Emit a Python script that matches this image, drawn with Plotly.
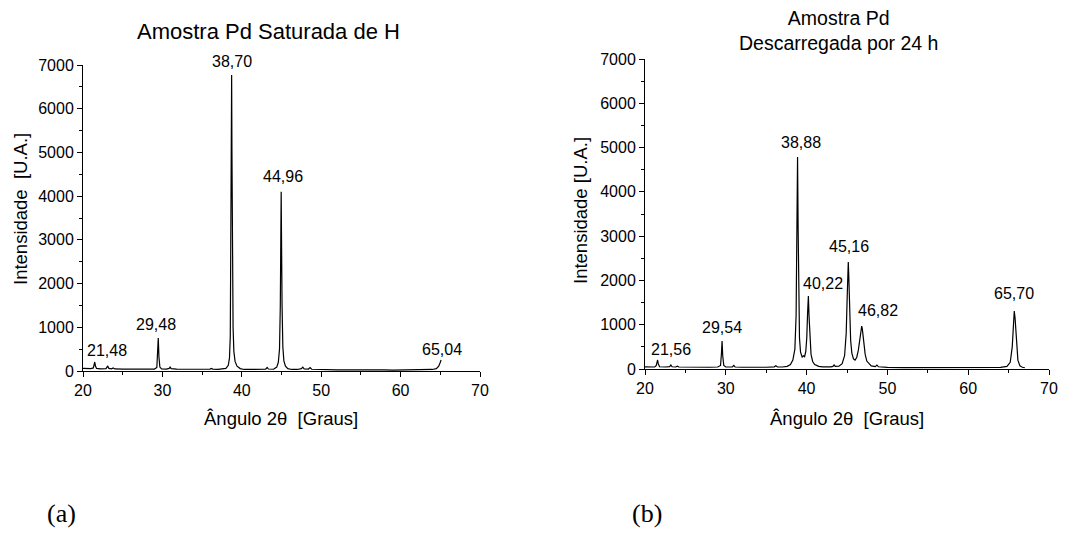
import plotly.graph_objects as go

# ---------------- data ----------------
# (a) Amostra Pd Saturada de H
a_angle = [20.0, 20.5, 21.0, 21.3, 21.42, 21.48, 21.56, 21.7, 22.2, 22.9, 23.05, 23.12, 23.25,
           23.6, 23.8, 24.0, 25.0, 26.0, 27.0, 28.0, 29.0, 29.3, 29.4, 29.48, 29.56, 29.68,
           29.9, 30.5, 30.85, 30.97, 31.1, 31.5, 31.65, 31.8, 33.0, 34.0, 35.0, 36.0, 36.15,
           36.35, 37.0, 37.5, 38.0, 38.3, 38.45, 38.55, 38.62, 38.68, 38.72, 38.76, 38.82,
           38.9, 39.0, 39.15, 39.4, 39.8, 40.3, 41.0, 42.0, 43.0, 43.2, 43.35, 44.0, 44.4,
           44.6, 44.75, 44.85, 44.92, 44.96, 45.0, 45.07, 45.17, 45.3, 45.5, 45.8, 46.3,
           47.0, 47.5, 47.68, 47.85, 48.4, 48.6, 48.8, 50.0, 52.0, 54.0, 56.0, 57.5, 57.7,
           57.9, 59.0, 60.5, 61.0, 62.0, 63.0, 64.0, 64.5, 64.8, 65.0, 65.1]
a_int = [60, 55, 55, 70, 150, 206, 120, 60, 50, 55, 100, 110, 60,
         50, 70, 48, 45, 45, 42, 42, 45, 80, 350, 755, 330, 90,
         50, 45, 60, 90, 55, 45, 55, 42, 40, 38, 38, 45, 60,
         42, 38, 45, 60, 130, 300, 800, 2500, 5200, 6770, 5000, 2600,
         1000, 450, 220, 110, 55, 35, 32, 32, 40, 80, 45, 40, 90,
         200, 500, 1500, 3200, 4100, 3100, 1500, 550, 230, 110, 55, 35,
         35, 55, 90, 50, 45, 80, 40, 30, 28, 25, 25, 25, 40,
         25, 22, 25, 32, 25, 25, 35, 55, 110, 200, 250]
a_peak_labels = ["21,48", "29,48", "38,70", "44,96", "65,04"]
a_peak_x = [21.48, 29.48, 38.72, 44.96, 65.1]
a_peak_y = [206, 755, 6770, 4100, 250]

# (b) Amostra Pd Descarregada por 24 h
b_angle = [20.0, 20.6, 21.2, 21.4, 21.5, 21.56, 21.64, 21.8, 22.5, 23.05, 23.2, 23.35, 23.8,
           24.0, 24.2, 25.0, 26.0, 27.0, 28.0, 29.0, 29.35, 29.46, 29.54, 29.62, 29.75, 30.0,
           30.8, 31.0, 31.15, 32.0, 33.0, 34.0, 35.0, 36.0, 36.2, 36.4, 37.0, 37.6, 38.0,
           38.3, 38.55, 38.7, 38.8, 38.88, 38.95, 39.03, 39.12, 39.25, 39.45, 39.6, 39.75,
           39.9, 40.02, 40.12, 40.22, 40.3, 40.4, 40.55, 40.75, 41.0, 41.5, 42.0, 43.0,
           43.25, 43.4, 43.55, 44.0, 44.4, 44.7, 44.9, 45.02, 45.1, 45.16, 45.22, 45.32,
           45.45, 45.6, 45.8, 46.0, 46.2, 46.4, 46.6, 46.75, 46.82, 46.9, 47.05, 47.25,
           47.45, 47.6, 47.75, 48.0, 48.5, 48.7, 48.9, 49.5, 50.0, 52.0, 54.0, 56.0, 57.6,
           57.8, 58.0, 59.0, 60.5, 61.2, 62.0, 63.0, 64.0, 64.8, 65.2, 65.45, 65.6, 65.7,
           65.8, 65.95, 66.15, 66.4, 66.7, 67.0]
b_int = [50, 45, 45, 80, 170, 203, 120, 50, 45, 55, 90, 50, 45,
         65, 45, 42, 40, 40, 40, 45, 80, 350, 632, 300, 80, 45,
         45, 80, 45, 40, 38, 38, 40, 50, 75, 48, 45, 60, 100,
         200, 450, 1200, 3000, 4787, 3200, 1500, 700, 380, 270, 300, 280,
         400, 700, 1250, 1648, 1200, 650, 330, 170, 100, 60, 50, 50,
         60, 90, 60, 65, 120, 300, 800, 1600, 2200, 2416, 2100, 1300,
         650, 360, 230, 200, 260, 420, 700, 930, 971, 900, 600, 330,
         180, 150, 120, 70, 55, 90, 50, 40, 35, 30, 30, 28, 28,
         40, 28, 28, 30, 38, 30, 30, 35, 60, 150, 500, 1000, 1310,
         1150, 600, 200, 70, 40, 30]
b_peak_labels = ["21,56", "29,54", "38,88", "40,22", "45,16", "46,82", "65,70"]
b_peak_x = [21.56, 29.54, 38.88, 40.22, 45.16, 46.82, 65.7]
b_peak_y = [203, 632, 4787, 1648, 2416, 971, 1310]

x_ticks = [20, 30, 40, 50, 60, 70]
y_ticks = [0, 1000, 2000, 3000, 4000, 5000, 6000, 7000]

# ---------------- figure ----------------
W, H = 1079, 538
FONT = "Liberation Sans, Arial, sans-serif"


def px(x):
    return x / W


def py(y):
    return 1 - y / H


fig = go.Figure()
fig.add_trace(go.Scatter(x=a_angle, y=a_int, mode="lines", xaxis="x", yaxis="y",
                         line=dict(color="black", width=1.2), showlegend=False))
fig.add_trace(go.Scatter(x=b_angle, y=b_int, mode="lines", xaxis="x2", yaxis="y2",
                         line=dict(color="black", width=1.2), showlegend=False))


def xaxis(domain, anchor):
    return dict(domain=domain, anchor=anchor, range=[20, 70], tickvals=x_ticks,
                automargin=False,
                showline=True, linecolor="black", linewidth=1, mirror=False,
                ticks="outside", ticklen=5, tickwidth=1, tickcolor="black",
                minor=dict(ticks="outside", ticklen=3, tickwidth=1, tickcolor="black",
                           dtick=5, tick0=20, showgrid=False),
                tickfont=dict(family=FONT, size=16, color="black"),
                showgrid=False, zeroline=False, fixedrange=True)


def yaxis(domain, anchor):
    return dict(domain=domain, anchor=anchor, range=[0, 7000], tickvals=y_ticks,
                automargin=False,
                showline=True, linecolor="black", linewidth=1, mirror=False,
                ticks="outside", ticklen=5, tickwidth=1, tickcolor="black",
                minor=dict(ticks="outside", ticklen=3, tickwidth=1, tickcolor="black",
                           dtick=500, tick0=0, showgrid=False),
                tickfont=dict(family=FONT, size=16, color="black"),
                showgrid=False, zeroline=False, fixedrange=True)


fig.update_layout(
    template="none",
    width=W, height=H,
    margin=dict(l=0, r=0, t=0, b=0, pad=0, autoexpand=False),
    paper_bgcolor="white", plot_bgcolor="white",
    xaxis=xaxis([px(83), px(480)], "y"),
    yaxis=yaxis([py(371), py(65)], "x"),
    xaxis2=xaxis([px(645), px(1049)], "y2"),
    yaxis2=yaxis([py(369), py(59)], "x2"),
)

ann = []
# peak labels (anchored to the peak tops)
a_shift = [(12, 11), (-2, 14), (0, 14), (2, 15), (1, 11)]
for lab, x, y, (dx, dy) in zip(a_peak_labels, a_peak_x, a_peak_y, a_shift):
    ann.append(dict(x=x, y=y, xref="x", yref="y", text=lab, showarrow=False,
                    xanchor="center", yanchor="middle", xshift=dx, yshift=dy,
                    font=dict(family=FONT, size=16, color="black")))
b_shift = [(13, 11), (0, 14), (3, 14), (15, 13), (1, 16), (16, 16), (0, 17)]
for lab, x, y, (dx, dy) in zip(b_peak_labels, b_peak_x, b_peak_y, b_shift):
    ann.append(dict(x=x, y=y, xref="x2", yref="y2", text=lab, showarrow=False,
                    xanchor="center", yanchor="middle", xshift=dx, yshift=dy,
                    font=dict(family=FONT, size=16, color="black")))

# titles
ann.append(dict(x=px(268), y=py(32), xref="paper", yref="paper", showarrow=False,
                text="Amostra Pd Saturada de H", xanchor="center", yanchor="middle",
                font=dict(family=FONT, size=22, color="black")))
ann.append(dict(x=px(838), y=py(30.5), xref="paper", yref="paper", showarrow=False,
                text="Amostra Pd<br>Descarregada por 24 h", xanchor="center", yanchor="middle",
                font=dict(family=FONT, size=19.5, color="black")))
# axis titles
for cx, cy, txt in [(281, 418, "Ângulo 2θ  [Graus]"), (847, 418, "Ângulo 2θ  [Graus]")]:
    ann.append(dict(x=px(cx), y=py(cy), xref="paper", yref="paper", showarrow=False,
                    text=txt, xanchor="center", yanchor="middle",
                    font=dict(family=FONT, size=18.5, color="black")))
for cx, cy, txt in [(20, 209, "Intensidade  [U.A.]"), (580, 211, "Intensidade [U.A.]")]:
    ann.append(dict(x=px(cx), y=py(cy), xref="paper", yref="paper", showarrow=False,
                    text=txt, xanchor="center", yanchor="middle", textangle=-90,
                    font=dict(family=FONT, size=18.5, color="black")))
# panel letters
for cx, txt in [(61, "(a)"), (647, "(b)")]:
    ann.append(dict(x=px(cx), y=py(513), xref="paper", yref="paper", showarrow=False,
                    text=txt, xanchor="center", yanchor="middle",
                    font=dict(family="Liberation Serif, Times New Roman, serif", size=26,
                              color="black")))

fig.update_layout(annotations=ann)
fig.write_html("out.html")
